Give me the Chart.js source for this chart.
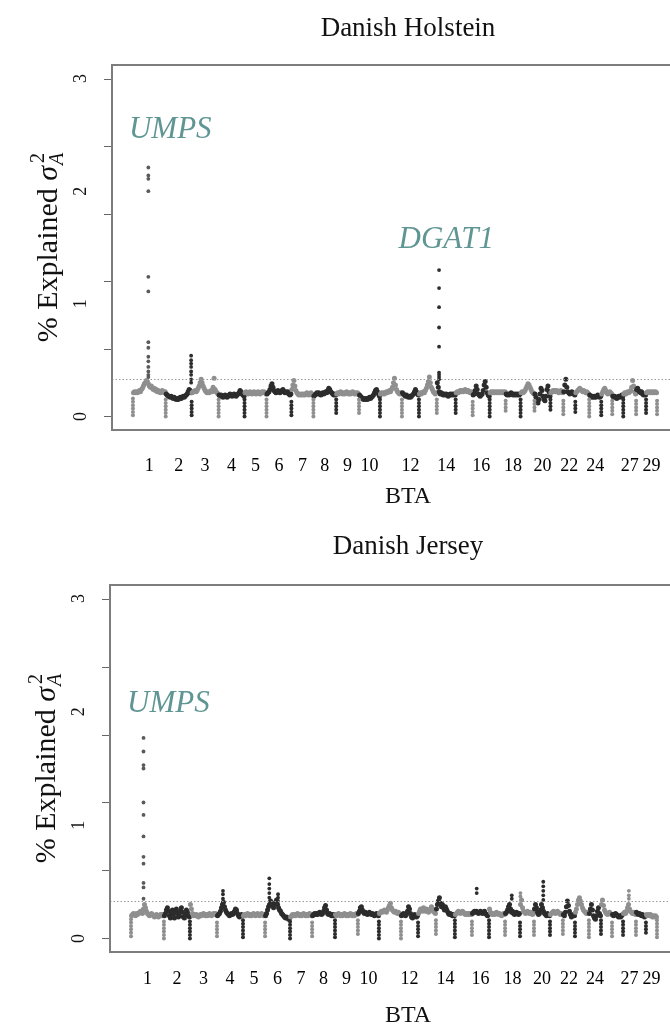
<!DOCTYPE html>
<html><head><meta charset="utf-8">
<script src="https://cdn.jsdelivr.net/npm/chart.js@4.4.0/dist/chart.umd.min.js"></script>
<style>
html,body{margin:0;padding:0;background:#fff;overflow:hidden;width:670px;height:1026px;}
canvas{display:block;}
</style></head><body>
<canvas id="holstein" width="690" height="513"></canvas>
<canvas id="jersey" width="690" height="513"></canvas>
<script>
// ---------- data ----------
const chromosomes = ['1','2','3','4','5','6','7','8','9','10','11','12','13','14','15','16','17','18','19','20','21','22','23','24','25','26','27','28','29'];
const chromLength = [158,125,130,125,106,120,106,110,110,101,106,82,86,91,82,82,77,72,67,77,62,58,67,58,53,53,62,48,53];
const xTickLabels = ['1','2','3','4','5','6','7','8','9','10','12','14','16','18','20','22','24','27','29'];
const yTickMarks = [0,0.6,1.2,1.8,2.4,3];
const yTickLabels = ['0','1','2','3'];
const threshold = 0.33;
const panelTitles = ['Danish Holstein','Danish Jersey'];
const xTitle = 'BTA';

const holsteinBand = [
 [.21,.22,.21,.22,.21,.22,.23,.22,.24,.25,.27,.29,.3,.32,.31,.29,.27,.26,.27,.25,.24,.25,.23,.24,.22,.23,.22,.21,.22,.23,.22,.21,.22],
 [.2,.19,.18,.18,.17,.18,.17,.16,.17,.16,.15,.16,.15,.16,.17,.16,.17,.18,.17,.18,.19,.2,.22,.24,.23,.21],
 [.21,.22,.22,.23,.22,.23,.25,.27,.3,.33,.3,.27,.25,.23,.22,.21,.22,.21,.22,.23,.22,.26,.34,.24,.22,.21,.2],
 [.19,.18,.19,.18,.17,.18,.19,.18,.17,.18,.19,.2,.19,.18,.19,.2,.19,.18,.19,.2,.21,.23,.22,.2,.19,.18],
 [.21,.22,.21,.2,.21,.22,.21,.2,.21,.22,.21,.2,.21,.22,.21,.2,.21,.22,.21,.22,.21,.2],
 [.2,.21,.22,.24,.27,.29,.26,.23,.22,.21,.22,.23,.22,.21,.22,.23,.24,.22,.21,.22,.21,.22,.2,.19,.2],
 [.24,.28,.32,.27,.23,.21,.2,.19,.2,.19,.2,.19,.2,.19,.2,.21,.2,.19,.2,.21,.2,.19],
 [.18,.19,.2,.21,.2,.21,.2,.19,.2,.21,.2,.21,.22,.21,.23,.25,.24,.22,.21,.2,.19,.2,.19],
 [.2,.21,.2,.21,.22,.21,.2,.21,.2,.21,.22,.21,.2,.21,.2,.21,.22,.21,.2,.21,.2,.21,.2],
 [.19,.18,.17,.16,.15,.16,.15,.16,.15,.16,.17,.16,.17,.18,.19,.21,.23,.24,.22,.2,.18],
 [.2,.21,.2,.21,.2,.21,.22,.21,.22,.23,.22,.24,.26,.3,.34,.28,.24,.22,.21,.2,.21,.2],
 [.21,.2,.19,.18,.19,.18,.17,.18,.17,.18,.19,.2,.22,.24,.22,.2,.19],
 [.2,.21,.2,.21,.22,.21,.23,.25,.28,.31,.35,.3,.26,.24,.22,.21,.2,.21],
 [.3,.26,.22,.2,.21,.2,.19,.2,.19,.2,.19,.18,.19,.2,.19,.2,.19,.2,.19],
 [.21,.22,.21,.22,.23,.22,.23,.22,.23,.24,.23,.22,.23,.22,.21,.22,.21],
 [.19,.2,.23,.27,.24,.2,.19,.18,.19,.2,.23,.28,.31,.26,.21,.19,.18],
 [.21,.22,.21,.22,.21,.22,.21,.22,.21,.22,.21,.22,.21,.22,.21,.22],
 [.2,.19,.2,.19,.2,.21,.2,.19,.2,.19,.2,.19,.2,.19,.2],
 [.21,.22,.21,.22,.23,.25,.27,.29,.28,.26,.24,.22,.21,.2],
 [.2,.17,.14,.12,.15,.2,.25,.23,.18,.15,.14,.18,.24,.27,.22,.18],
 [.21,.22,.23,.22,.23,.22,.23,.22,.21,.22,.23,.22,.21],
 [.22,.28,.33,.26,.22,.21,.2,.21,.22,.21,.2,.19],
 [.21,.22,.23,.24,.25,.24,.23,.22,.23,.22,.21,.22,.21,.2],
 [.19,.18,.17,.18,.17,.18,.17,.18,.19,.18,.17,.18],
 [.2,.22,.24,.25,.23,.21,.2,.21,.22,.21,.2],
 [.18,.17,.18,.17,.16,.17,.18,.17,.18,.19,.18],
 [.2,.21,.2,.21,.22,.21,.22,.23,.26,.32,.27,.22,.2],
 [.24,.25,.23,.22,.21,.22,.2,.19,.2,.19],
 [.21,.22,.21,.22,.21,.22,.21,.22,.21,.22,.21]
];
const holsteinDips = [
 [.01,.04,.07,.1,.13,.16],[0,.03,.06,.09,.12,.15],[.01,.04,.07,.1,.13],[0,.03,.06,.09,.12,.15],
 [0,.03,.06,.09,.12,.15],[0,.03,.06,.09,.12,.15],[.01,.04,.07,.1,.13],[0,.03,.06,.09,.12,.15],
 [.03,.06,.09,.12,.15],[.03,.06,.09,.12,.15],[0,.03,.06,.09,.12,.15],[0,.03,.06,.09,.12,.15],
 [0,.03,.06,.09,.12,.15],[.03,.06,.09,.12,.15],[.03,.06,.09,.12,.15],[.01,.04,.07,.1,.13],
 [0,.03,.06,.09,.12,.15],[.05,.08,.11,.14],[0,.03,.06,.09,.12,.15],[.05,.08,.11,.14],
 [.06,.09,.12,.15],[.02,.05,.08,.11,.14],[.04,.07,.1,.13],[0,.03,.06,.09,.12,.15],
 [.01,.04,.07,.1,.13],[.02,.05,.08,.11,.14],[0,.03,.06,.09,.12,.15],[.02,.05,.08,.11,.14],
 [.03,.06,.09,.12,.15],[.02,.05,.08,.11,.14]
];
const holsteinPeakChr = [1, 2, 14];
const holsteinPeakPos = [0.47, 0.98, 0.12];
const holsteinPeakVals = [
 [2.21,2.14,2.11,2.0,1.24,1.11,.66,.61,.53,.49,.44,.4,.37,.35],
 [.54,.5,.47,.44,.4,.37,.33,.3],
 [1.3,1.14,.97,.79,.62,.39,.37,.35,.33]
];

const jerseyBand = [
 [.2,.21,.22,.21,.2,.22,.21,.22,.23,.24,.23,.22,.26,.3,.27,.24,.22,.21,.2,.21,.22,.21,.2,.19,.2,.21,.2,.19,.2,.21,.2,.21,.2],
 [.2,.22,.25,.27,.24,.2,.18,.22,.25,.21,.18,.23,.26,.22,.19,.2,.24,.27,.23,.19,.18,.21,.25,.23,.2,.19],
 [.3,.26,.22,.2,.21,.2,.21,.2,.19,.2,.21,.2,.21,.22,.21,.2,.21,.2,.21,.22,.21,.2,.21,.22,.21,.22,.21],
 [.2,.21,.22,.24,.27,.3,.32,.28,.25,.23,.22,.21,.2,.21,.22,.21,.22,.24,.26,.25,.22,.2,.19,.2,.21,.2],
 [.2,.21,.2,.21,.22,.21,.2,.21,.2,.21,.22,.21,.2,.21,.22,.21,.2,.21,.22,.21,.2,.21],
 [.2,.22,.25,.28,.3,.33,.31,.29,.27,.3,.32,.34,.3,.27,.25,.24,.22,.21,.2,.19,.18,.19,.18,.17,.18],
 [.19,.2,.21,.2,.21,.2,.21,.22,.21,.2,.21,.2,.21,.22,.21,.2,.21,.2,.21,.22,.21,.2],
 [.2,.21,.22,.21,.22,.21,.22,.23,.22,.21,.22,.24,.27,.29,.25,.22,.21,.22,.21,.2,.21,.2,.21],
 [.21,.2,.21,.22,.21,.2,.21,.2,.21,.22,.21,.2,.21,.2,.21,.22,.21,.2,.21,.2,.21,.22,.21],
 [.22,.24,.27,.28,.25,.23,.22,.23,.22,.21,.22,.23,.22,.21,.22,.21,.2,.21,.22,.21,.2],
 [.22,.23,.24,.23,.24,.25,.24,.23,.25,.27,.29,.31,.27,.25,.24,.23,.24,.23,.22,.23,.22,.21],
 [.2,.21,.22,.21,.2,.21,.24,.28,.26,.22,.19,.18,.2,.21,.2,.19,.2],
 [.22,.24,.26,.25,.24,.27,.25,.24,.26,.25,.23,.24,.26,.28,.26,.24,.23,.22],
 [.26,.3,.33,.36,.31,.28,.3,.27,.25,.28,.26,.24,.22,.21,.22,.21,.2,.21,.2],
 [.21,.22,.23,.24,.23,.22,.23,.24,.23,.22,.21,.22,.21,.22,.21,.22,.21],
 [.22,.23,.24,.23,.24,.23,.22,.23,.24,.23,.22,.23,.24,.22,.21,.2,.21],
 [.26,.23,.22,.21,.22,.21,.22,.23,.22,.21,.22,.21,.2,.21,.22,.21],
 [.22,.23,.25,.28,.3,.26,.23,.24,.22,.21,.22,.23,.22,.21,.22],
 [.3,.34,.27,.24,.23,.22,.23,.24,.23,.22,.23,.22,.21,.22],
 [.26,.3,.27,.23,.21,.22,.25,.3,.27,.24,.22,.21,.2,.22,.21,.2],
 [.21,.22,.23,.24,.23,.22,.23,.24,.23,.22,.21,.22,.21],
 [.21,.2,.23,.28,.33,.29,.24,.21,.19,.2,.21,.2],
 [.23,.26,.3,.34,.36,.33,.3,.27,.25,.24,.23,.22,.23,.22],
 [.22,.26,.3,.25,.2,.18,.17,.2,.24,.27,.22,.2],
 [.3,.34,.29,.25,.23,.22,.21,.22,.23,.22,.21],
 [.21,.2,.21,.22,.21,.2,.19,.2,.19,.2,.21],
 [.22,.23,.22,.24,.27,.3,.26,.24,.23,.22,.23,.22,.21],
 [.23,.22,.21,.22,.21,.2,.21,.2,.19,.2],
 [.21,.2,.21,.2,.21,.2,.19,.2,.19,.2,.19]
];
const jerseyDips = [
 [.02,.05,.08,.11,.14,.17],[0,.03,.06,.09,.12,.15],[0,.03,.06,.09,.12,.15],[.02,.05,.08,.11,.14],
 [.01,.04,.07,.1,.13,.16],[.02,.05,.08,.11,.14],[0,.03,.06,.09,.12,.15],[.02,.05,.08,.11,.14],
 [.01,.04,.07,.1,.13,.16],[.04,.07,.1,.13,.16],[0,.03,.06,.09,.12,.15],[0,.03,.06,.09,.12,.15],
 [.02,.05,.08,.11,.14],[.04,.07,.1,.13,.16],[.01,.04,.07,.1,.13,.16],[.03,.06,.09,.12,.15],
 [.01,.04,.07,.1,.13,.16],[.03,.06,.09,.12,.15],[.02,.05,.08,.11,.14],[.03,.06,.09,.12,.15],
 [.03,.06,.09,.12,.15],[.04,.07,.1,.13,.16],[.02,.05,.08,.11,.14],[.01,.04,.07,.1,.13,.16],
 [.04,.07,.1,.13,.16],[.02,.05,.08,.11,.14],[.03,.06,.09,.12,.15],[.03,.06,.09,.12,.15],
 [.05,.08,.11,.14],[.01,.04,.07,.1,.13,.16]
];
const jerseyPeakChr = [1, 4, 6, 6, 16, 18, 19, 20, 27];
const jerseyPeakPos = [0.38, 0.23, 0.17, 0.52, 0.28, 0.45, 0.03, 0.58, 0.45];
const jerseyPeakVals = [
 [1.77,1.65,1.53,1.5,1.2,1.09,.9,.72,.66,.49,.45,.35],
 [.42,.39,.35,.31],[.53,.48,.44,.4,.36],[.39,.36,.33],[.44,.4],[.38,.35],[.4,.37],
 [.5,.46,.42,.38,.34],[.42,.38,.35]
];

const holsteinGenes = ['UMPS','DGAT1'];
const holsteinGeneChr = [1, 14];
const holsteinGenePos = [0, 0.5];
const holsteinGeneY = [2.47, 1.5];
const jerseyGenes = ['UMPS'];
const jerseyGeneChr = [1];
const jerseyGenePos = [0];
const jerseyGeneY = [2.0];

// ---------- helpers ----------
const GRAY = '#8f8f8f', DARK = '#2c2c2c', TEAL = '#5f9693';
const FONT = '"Liberation Serif", "Times New Roman", serif';
const starts = []; let genomeLen = 0;
chromLength.forEach(l => { starts.push(genomeLen); genomeLen += l; });
const colorOf = i => (i % 2 === 0 ? GRAY : DARK);
const midOf = label => { const i = chromosomes.indexOf(label); return starts[i] + chromLength[i] / 2; };

function buildPoints(band, dips, pChr, pPos, pVals) {
  const pts = [], cols = [], rads = [];
  band.forEach((vals, i) => {
    const n = vals.length;
    vals.forEach((v, j) => { pts.push({x: starts[i] + (j + 0.5) / n * chromLength[i], y: v}); cols.push(colorOf(i)); rads.push(2.5); });
  });
  dips.forEach((vals, k) => {
    const x = k < chromLength.length ? starts[k] : genomeLen;
    const ci = k === 0 ? 0 : k - 1;
    vals.forEach(v => { pts.push({x: x, y: v}); cols.push(colorOf(ci)); rads.push(2); });
  });
  pChr.forEach((c, p) => {
    const i = c - 1;
    const x = starts[i] + pPos[p] * chromLength[i];
    pVals[p].forEach(v => { pts.push({x: x, y: v}); cols.push(i === 0 ? '#5a5a5a' : colorOf(i)); rads.push(1.9); });
  });
  return {pts, cols, rads};
}

const decor = {
  id: 'decor',
  afterDraw(chart, args, o) {
    const ctx = chart.ctx, a = chart.chartArea, ys = chart.scales.y, xs = chart.scales.x;
    ctx.save();
    // threshold
    ctx.strokeStyle = '#9a9a9a'; ctx.lineWidth = 1; ctx.setLineDash([1.5, 2]);
    const ty = Math.round(ys.getPixelForValue(threshold)) + 0.5;
    ctx.beginPath(); ctx.moveTo(a.left, ty); ctx.lineTo(a.right, ty); ctx.stroke();
    ctx.setLineDash([]);
    // box
    ctx.strokeStyle = '#7d7d7d'; ctx.lineWidth = 2;
    ctx.strokeRect(a.left, a.top, a.right - a.left, a.bottom - a.top);
    // y tick marks
    ctx.strokeStyle = '#666'; ctx.lineWidth = 1;
    yTickMarks.forEach(v => {
      const y = Math.round(ys.getPixelForValue(v)) + 0.5;
      ctx.beginPath(); ctx.moveTo(a.left - 8, y); ctx.lineTo(a.left - 1, y); ctx.stroke();
    });
    // y tick labels (rotated)
    ctx.fillStyle = '#111'; ctx.font = '18px ' + FONT; ctx.textAlign = 'center'; ctx.textBaseline = 'alphabetic';
    yTickLabels.forEach(l => {
      const y = ys.getPixelForValue(Number(l));
      ctx.save(); ctx.translate(a.left - 26, y); ctx.rotate(-Math.PI / 2); ctx.fillText(l, 0, 0); ctx.restore();
    });
    // y title
    ctx.save();
    ctx.translate(a.left - 55, (a.top + a.bottom) / 2); ctx.rotate(-Math.PI / 2);
    const f1 = '30px ' + FONT, f2 = 'italic 30px ' + FONT, f3 = '20px ' + FONT, f4 = 'italic 20px ' + FONT;
    ctx.font = f1; const w1 = ctx.measureText('% Explained ').width;
    ctx.font = f2; const w2 = ctx.measureText('\u03C3').width;
    ctx.font = f4; const w4 = ctx.measureText('A').width;
    const total = w1 + w2 + w4 + 1;
    let x = -total / 2;
    ctx.textAlign = 'left';
    ctx.font = f1; ctx.fillText('% Explained ', x, 0); x += w1;
    ctx.font = f2; ctx.fillText('\u03C3', x, 0); x += w2 + 1;
    ctx.font = f3; ctx.fillText('2', x + 2, -13);
    ctx.font = f4; ctx.fillText('A', x, 6);
    ctx.restore();
    // titles
    ctx.textAlign = 'center'; ctx.fillStyle = '#111';
    ctx.font = '27px ' + FONT; ctx.fillText(o.title, 408, o.titleY);
    ctx.font = '24px ' + FONT; ctx.fillText(xTitle, 408, o.xTitleY);
    // gene labels
    ctx.fillStyle = TEAL; ctx.font = 'italic 31px ' + FONT;
    o.genes.forEach((g, k) => {
      const i = o.geneChr[k] - 1;
      const gx = xs.getPixelForValue(starts[i] + o.genePos[k] * chromLength[i]);
      ctx.textAlign = o.genePos[k] === 0 ? 'left' : 'center';
      ctx.fillText(g, o.genePos[k] === 0 ? gx - 4 : gx, ys.getPixelForValue(o.geneY[k]));
    });
    ctx.restore();
  }
};

function makePanel(id, data, cfg) {
  return new Chart(document.getElementById(id), {
    type: 'scatter',
    data: {datasets: [{data: data.pts, pointBackgroundColor: data.cols, pointBorderWidth: 0, pointRadius: data.rads, pointHoverRadius: data.rads}]},
    options: {
      responsive: false, animation: false, devicePixelRatio: 1, events: [],
      layout: {padding: {left: 0, right: 12, top: cfg.top, bottom: 0}},
      plugins: {legend: {display: false}, tooltip: {enabled: false}, decor: cfg.decor},
      scales: {
        x: {type: 'linear', min: -101, max: genomeLen + 101,
            grid: {display: false}, border: {display: false},
            afterBuildTicks: s => { s.ticks = xTickLabels.map(l => ({value: midOf(l)})); },
            ticks: {autoSkip: false, maxRotation: 0, minRotation: 0, padding: cfg.tickPad, color: '#000',
                    font: {family: FONT, size: 18}, callback: (v, i) => xTickLabels[i]},
            afterFit: s => { s.height = cfg.xHeight; }},
        y: {type: 'linear', min: -0.12, max: 3.12, grid: {display: false}, border: {display: false},
            ticks: {display: false}, afterFit: s => { s.width = cfg.left; }}
      }
    },
    plugins: [decor]
  });
}

makePanel('holstein', buildPoints(holsteinBand, holsteinDips, holsteinPeakChr, holsteinPeakPos, holsteinPeakVals),
  {top: 65, xHeight: 83, left: 112, tickPad: 17,
   decor: {title: panelTitles[0], titleY: 36, xTitleY: 503, genes: holsteinGenes, geneChr: holsteinGeneChr, genePos: holsteinGenePos, geneY: holsteinGeneY}});
makePanel('jersey', buildPoints(jerseyBand, jerseyDips, jerseyPeakChr, jerseyPeakPos, jerseyPeakVals),
  {top: 72, xHeight: 74, left: 110, tickPad: 8,
   decor: {title: panelTitles[1], titleY: 41, xTitleY: 509, genes: jerseyGenes, geneChr: jerseyGeneChr, genePos: jerseyGenePos, geneY: jerseyGeneY}});
</script>
</body></html>
